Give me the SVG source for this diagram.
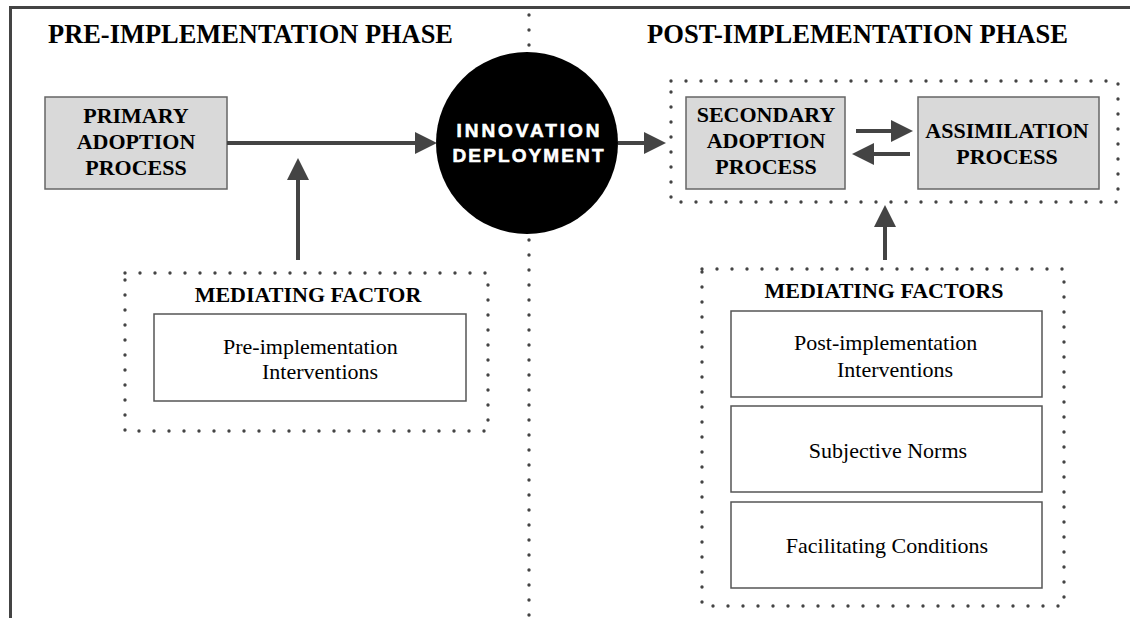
<svg xmlns="http://www.w3.org/2000/svg" width="1130" height="618" viewBox="0 0 1130 618">
<defs>
<marker id="ah" markerUnits="userSpaceOnUse" markerWidth="24" markerHeight="24" refX="10" refY="11" orient="auto">
<path d="M0,0 L22,11 L0,22 Z" fill="#444"/>
</marker>
<style>
.frame{fill:none;stroke:#444;stroke-width:3}
.dots{fill:none;stroke:#444;stroke-width:3.4;stroke-linecap:round;stroke-dasharray:0 15}
.gbox{fill:#d9d9d9;stroke:#666;stroke-width:1.5}
.wbox{fill:#fff;stroke:#555;stroke-width:1.5}
.title{font-family:"Liberation Serif","Times New Roman",serif;font-weight:bold;font-size:27px;fill:#000}
.blab{font-family:"Liberation Serif","Times New Roman",serif;font-weight:bold;font-size:22px;fill:#000;text-anchor:middle}
.rlab{font-family:"Liberation Serif","Times New Roman",serif;font-size:22px;fill:#000}
.clab{font-family:"Liberation Sans",Arial,sans-serif;font-weight:bold;font-size:19px;fill:#fff;stroke:#fff;stroke-width:0.6;text-anchor:middle}
.conn{fill:none;stroke:#444;stroke-width:4;marker-end:url(#ah)}
</style>
</defs>
<rect width="1130" height="618" fill="#fff"/>
<g id="frame">
<path class="frame" d="M10.5,618 V7.5 H1130"/>
<path class="dots" d="M529,15 V618"/>
<text class="title" x="48" y="43" textLength="405" lengthAdjust="spacingAndGlyphs">PRE-IMPLEMENTATION PHASE</text>
<text class="title" x="647" y="43" textLength="421" lengthAdjust="spacingAndGlyphs">POST-IMPLEMENTATION PHASE</text>
</g>
<g id="primary">
<rect class="gbox" x="45" y="97" width="182" height="92"/>
<text class="blab" x="136" y="123">PRIMARY</text>
<text class="blab" x="136" y="149">ADOPTION</text>
<text class="blab" x="136" y="175">PROCESS</text>
</g>
<g id="innovation">
<circle cx="527" cy="143" r="91" fill="#000"/>
<text class="clab" x="528" y="137" textLength="143" lengthAdjust="spacing">INNOVATION</text>
<text class="clab" x="528" y="162" textLength="151" lengthAdjust="spacing">DEPLOYMENT</text>
</g>
<g id="post-group">
<rect class="dots" x="671" y="81" width="447" height="121"/>
</g>
<g id="secondary">
<rect class="gbox" x="686" y="97" width="159" height="92"/>
<text class="blab" x="766" y="122">SECONDARY</text>
<text class="blab" x="766" y="148">ADOPTION</text>
<text class="blab" x="766" y="174">PROCESS</text>
</g>
<g id="assimilation">
<rect class="gbox" x="918" y="97" width="181" height="92"/>
<text class="blab" x="1007" y="138">ASSIMILATION</text>
<text class="blab" x="1007" y="164">PROCESS</text>
</g>
<g id="mediating-factor">
<rect class="dots" x="125" y="273" width="363" height="158"/>
<text class="blab" x="308" y="302">MEDIATING FACTOR</text>
<rect class="wbox" x="154" y="314" width="312" height="87"/>
<text class="rlab" x="223" y="354">Pre-implementation</text>
<text class="rlab" x="262" y="379">Interventions</text>
</g>
<g id="mediating-factors">
<rect class="dots" x="702" y="269" width="362" height="337"/>
<text class="blab" x="884" y="298">MEDIATING FACTORS</text>
</g>
<g id="post-interventions">
<rect class="wbox" x="731" y="311" width="311" height="86"/>
<text class="rlab" x="794" y="350">Post-implementation</text>
<text class="rlab" x="837" y="377">Interventions</text>
</g>
<g id="subjective-norms">
<rect class="wbox" x="731" y="406" width="311" height="86"/>
<text class="rlab" x="888" y="458" text-anchor="middle">Subjective Norms</text>
</g>
<g id="facilitating-conditions">
<rect class="wbox" x="731" y="502" width="311" height="86"/>
<text class="rlab" x="887" y="553" text-anchor="middle">Facilitating Conditions</text>
</g>
<g id="connectors">
<line class="conn" x1="227" y1="143" x2="425" y2="143"/>
<line class="conn" x1="298" y1="260" x2="298" y2="170"/>
<line class="conn" x1="618" y1="143" x2="654" y2="143"/>
<line class="conn" x1="856" y1="131" x2="901" y2="131"/>
<line class="conn" x1="910" y1="154" x2="864" y2="154"/>
<line class="conn" x1="885" y1="260" x2="885" y2="217"/>
</g>
</svg>
